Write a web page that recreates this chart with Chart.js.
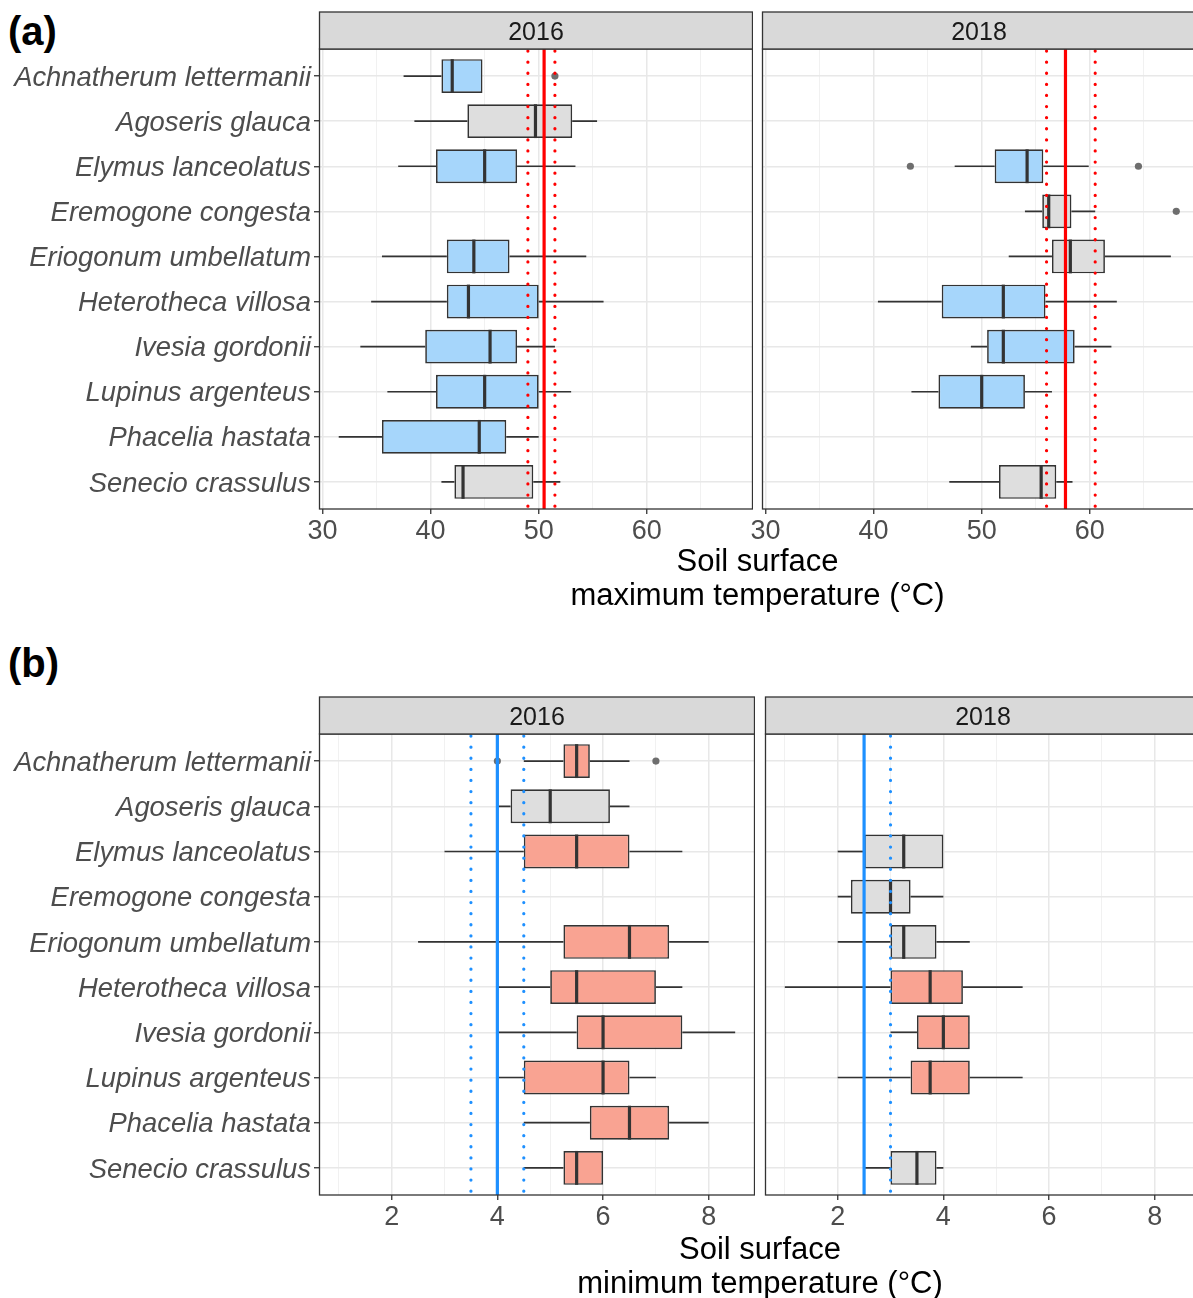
<!DOCTYPE html>
<html>
<head>
<meta charset="utf-8">
<script src="https://cdn.jsdelivr.net/npm/chart.js@4.4.1/dist/chart.umd.min.js"></script>
<style>
  html, body { margin: 0; padding: 0; background: #fff; overflow: hidden; }
  #page { position: relative; width: 1193px; height: 1298px; overflow: hidden; font-family: 'Liberation Sans', Arial, sans-serif; }
  canvas { position: absolute; }
  .tag { position: absolute; left: 8px; font-weight: bold; font-size: 40px; line-height: 40px; color: #000; }
  .xtitle { position: absolute; text-align: center; font-size: 31px; line-height: 34px; color: #000; }
</style>
</head>
<body>
<div id="page">
  <div class="tag" style="top:11px">(a)</div>
  <canvas id="a2016" width="753" height="559" style="left:0;top:0"></canvas>
  <canvas id="a2018" width="456" height="559" style="left:740px;top:0"></canvas>
  <div class="xtitle" style="left:319px;width:877px;top:544px">Soil surface<br>maximum temperature (°C)</div>

  <div class="tag" style="top:643px">(b)</div>
  <canvas id="b2016" width="755" height="560" style="left:0;top:685px"></canvas>
  <canvas id="b2018" width="459" height="560" style="left:742px;top:685px"></canvas>
  <div class="xtitle" style="left:319px;width:882px;top:1232px">Soil surface<br>minimum temperature (°C)</div>
</div>

<script>
// species (rows, top to bottom)
const species = [
  'Achnatherum lettermanii', 'Agoseris glauca', 'Elymus lanceolatus', 'Eremogone congesta',
  'Eriogonum umbellatum', 'Heterotheca villosa', 'Ivesia gordonii', 'Lupinus argenteus',
  'Phacelia hastata', 'Senecio crassulus'
];

// (a) soil surface maximum temperature, box stats: [whisker low, Q1, median, Q3, whisker high]
const max2016 = [
  [37.5, 41.0, 42.0, 44.8, 44.8],
  [38.5, 43.4, 49.7, 53.1, 55.4],
  [37.0, 40.5, 45.0, 48.0, 53.4],
  null,
  [35.5, 41.5, 44.0, 47.3, 54.4],
  [34.5, 41.5, 43.5, 50.0, 56.0],
  [33.5, 39.5, 45.5, 48.0, 51.5],
  [36.0, 40.5, 45.0, 50.0, 53.0],
  [31.5, 35.5, 44.5, 47.0, 50.0],
  [41.0, 42.2, 43.0, 49.5, 52.0]
];
const max2018 = [
  null,
  null,
  [47.5, 51.2, 54.2, 55.7, 59.9],
  [54.0, 55.6, 56.2, 58.3, 60.5],
  [52.5, 56.5, 58.2, 61.4, 67.5],
  [40.4, 46.3, 52.0, 55.9, 62.5],
  [49.0, 50.5, 52.0, 58.6, 62.0],
  [43.5, 46.0, 50.0, 54.0, 56.5],
  null,
  [47.0, 51.6, 55.5, 56.9, 58.4]
];
// 1 = coloured box, 0 = grey box
const max2016Hi = [1, 0, 1, null, 1, 1, 1, 1, 1, 0];
const max2018Hi = [null, null, 1, 0, 0, 1, 1, 1, null, 0];
// outliers: [row, value]
const max2016Out = [[0, 51.5]];
const max2018Out = [[2, 43.4], [2, 64.5], [3, 68.0]];
// reference lines: [mean, lower, upper]
const max2016Ref = [50.5, 49.0, 51.5];
const max2018Ref = [57.75, 56.0, 60.5];
const maxTicks = [30, 40, 50, 60];
const maxMinor = [35, 45, 55, 65];

// (b) soil surface minimum temperature
const min2016 = [
  [4.5, 5.25, 5.5, 5.75, 6.5],
  [4.0, 4.25, 5.0, 6.13, 6.5],
  [3.0, 4.5, 5.5, 6.5, 7.5],
  null,
  [2.5, 5.25, 6.5, 7.25, 8.0],
  [4.0, 5.0, 5.5, 7.0, 7.5],
  [4.0, 5.5, 6.0, 7.5, 8.5],
  [4.0, 4.5, 6.0, 6.5, 7.0],
  [4.5, 5.75, 6.5, 7.25, 8.0],
  [4.5, 5.25, 5.5, 6.0, 6.0]
];
const min2018 = [
  null,
  null,
  [2.0, 2.5, 3.25, 4.0, 4.0],
  [2.0, 2.25, 3.0, 3.38, 4.0],
  [2.0, 3.0, 3.25, 3.87, 4.5],
  [1.0, 3.0, 3.75, 4.37, 5.5],
  [3.0, 3.5, 4.0, 4.5, 4.5],
  [2.0, 3.38, 3.75, 4.5, 5.5],
  null,
  [2.5, 3.0, 3.5, 3.87, 4.0]
];
const min2016Hi = [1, 0, 1, null, 1, 1, 1, 1, 1, 1];
const min2018Hi = [null, null, 0, 0, 0, 1, 1, 1, null, 0];
const min2016Out = [[0, 4.0], [0, 7.0]];
const min2018Out = [];
const min2016Ref = [4.0, 3.5, 4.5];
const min2018Ref = [2.5, null, 3.0];
const minTicks = [2, 4, 6, 8];
const minMinor = [1, 3, 5, 7];

Chart.defaults.font.family = "'Liberation Sans', Arial, sans-serif";

const GREY_FILL = '#dedede';
const EDGE = '#333333';

// ggplot-like range: data range expanded by 5% on each side
function expandRange(sets, outs) {
  let lo = Infinity, hi = -Infinity;
  sets.forEach(s => s.forEach(r => { if (r) { lo = Math.min(lo, r[0]); hi = Math.max(hi, r[4]); } }));
  outs.forEach(o => o.forEach(p => { lo = Math.min(lo, p[1]); hi = Math.max(hi, p[1]); }));
  const pad = (hi - lo) * 0.05;
  return [lo - pad, hi + pad];
}

function facetPlugin(f) {
  return {
    id: 'facet',
    beforeDatasetsDraw(chart) {
      // whiskers, behind the boxes
      const { ctx, scales: { x } } = chart;
      const meta = chart.getDatasetMeta(0);
      const rows = chart.data.datasets[0].data;
      ctx.save();
      ctx.strokeStyle = EDGE;
      ctx.lineWidth = 1.7;
      rows.forEach((r, j) => {
        const py = meta.data[j].y;
        ctx.beginPath();
        ctx.moveTo(x.getPixelForValue(r.lo), py);
        ctx.lineTo(x.getPixelForValue(r.x[0]), py);
        ctx.moveTo(x.getPixelForValue(r.x[1]), py);
        ctx.lineTo(x.getPixelForValue(r.hi), py);
        ctx.stroke();
      });
      ctx.restore();
    },
    afterDatasetsDraw(chart) {
      const { ctx, chartArea: a, scales: { x, y } } = chart;
      const meta = chart.getDatasetMeta(0);
      const rows = chart.data.datasets[0].data;
      ctx.save();
      // medians
      ctx.strokeStyle = EDGE;
      ctx.lineWidth = 3.2;
      rows.forEach((r, j) => {
        const el = meta.data[j];
        const px = x.getPixelForValue(r.med);
        ctx.beginPath();
        ctx.moveTo(px, el.y - el.height / 2);
        ctx.lineTo(px, el.y + el.height / 2);
        ctx.stroke();
      });
      // outliers
      ctx.fillStyle = '#6e6e6e';
      f.out.forEach(([i, v]) => {
        ctx.beginPath();
        ctx.arc(x.getPixelForValue(v), y.getPixelForValue(i + 1), 3.6, 0, Math.PI * 2);
        ctx.fill();
      });
      // reference lines
      const [mean, lo, hi] = f.ref;
      ctx.strokeStyle = f.lineColor;
      ctx.lineWidth = 3.2;
      ctx.lineCap = 'round';
      ctx.setLineDash([0.1, 11]);
      [lo, hi].forEach(v => {
        if (v == null) return;
        const px = x.getPixelForValue(v);
        ctx.beginPath();
        ctx.moveTo(px, a.top + 2);
        ctx.lineTo(px, a.bottom);
        ctx.stroke();
      });
      ctx.setLineDash([]);
      ctx.lineCap = 'butt';
      const pm = x.getPixelForValue(mean);
      ctx.beginPath();
      ctx.moveTo(pm, a.top);
      ctx.lineTo(pm, a.bottom);
      ctx.stroke();
      ctx.restore();
    },
    afterDraw(chart) {
      const { ctx, chartArea: a } = chart;
      ctx.save();
      ctx.strokeStyle = EDGE;
      ctx.lineWidth = 1.3;
      ctx.strokeRect(a.left + 0.5, a.top, a.right - a.left - 1, a.bottom - a.top);
      // facet strip
      const sh = 37;
      ctx.fillStyle = '#d9d9d9';
      ctx.fillRect(a.left + 0.5, a.top - sh, a.right - a.left - 1, sh);
      ctx.strokeRect(a.left + 0.5, a.top - sh, a.right - a.left - 1, sh);
      ctx.fillStyle = '#1a1a1a';
      ctx.font = "25px 'Liberation Sans', Arial, sans-serif";
      ctx.textAlign = 'center';
      ctx.textBaseline = 'middle';
      ctx.fillText(f.year, (a.left + a.right) / 2, a.top - sh / 2 + 2.5);
      ctx.restore();
    }
  };
}

function facet(canvasId, f) {
  const rows = [];
  const colors = [];
  f.stats.forEach((s, i) => {
    if (!s) return;
    rows.push({ y: i + 1, x: [s[1], s[3]], lo: s[0], med: s[2], hi: s[4] });
    colors.push(f.hi[i] ? f.hiFill : GREY_FILL);
  });
  const isMajor = v => f.ticks.includes(v);
  const gridVals = f.ticks.concat(f.minor).filter(v => v > f.range[0] && v < f.range[1]).sort((p, q) => p - q);

  new Chart(document.getElementById(canvasId), {
    type: 'bar',
    data: {
      datasets: [{
        data: rows,
        backgroundColor: colors,
        borderColor: EDGE,
        borderWidth: 1.7,
        borderSkipped: false,
        categoryPercentage: 0.75,
        barPercentage: 1
      }]
    },
    options: {
      indexAxis: 'y',
      responsive: false,
      animation: false,
      events: [],
      layout: { padding: { top: 49, left: 0, right: 0, bottom: 0 } },
      plugins: { legend: { display: false }, tooltip: { enabled: false } },
      scales: {
        x: {
          type: 'linear',
          bounds: 'data',
          beginAtZero: false,
          min: f.range[0],
          max: f.range[1],
          afterBuildTicks: s => { s.ticks = gridVals.map(v => ({ value: v })); },
          afterFit: s => { s.height = 50; },
          ticks: {
            autoSkip: false,
            maxRotation: 0,
            padding: 1,
            color: '#4d4d4d',
            font: { size: 27 },
            callback: v => isMajor(v) ? String(v) : ''
          },
          grid: {
            color: c => (c.tick && isMajor(c.tick.value)) ? '#e8e8e8' : '#efefef',
            lineWidth: c => (c.tick && isMajor(c.tick.value)) ? 1.5 : 0.9,
            tickLength: 5,
            tickWidth: 1.3,
            tickColor: c => (c.tick && isMajor(c.tick.value)) ? EDGE : 'rgba(0,0,0,0)'
          },
          border: { display: false }
        },
        y: {
          type: 'linear',
          bounds: 'data',
          reverse: true,
          offset: false,
          min: 0.4,
          max: 10.6,
          afterBuildTicks: s => { s.ticks = species.map((n, i) => ({ value: i + 1 })); },
          afterFit: s => { s.width = f.axisWidth; },
          ticks: {
            display: f.showY,
            autoSkip: false,
            padding: 3,
            labelOffset: 2,
            color: '#4d4d4d',
            font: { size: 27.4, style: 'italic' },
            callback: v => species[v - 1]
          },
          grid: {
            offset: false,
            color: '#e8e8e8',
            lineWidth: 1.5,
            drawTicks: f.showY,
            tickLength: 5,
            tickWidth: 1.3,
            tickColor: EDGE
          },
          border: { display: false }
        }
      }
    },
    plugins: [facetPlugin(f)]
  });
}

const maxRange = expandRange([max2016, max2018], [max2016Out, max2018Out]);
const minRange = expandRange([min2016, min2018], [min2016Out, min2018Out]);

facet('a2016', { year: '2016', stats: max2016, hi: max2016Hi, out: max2016Out, ref: max2016Ref,
  ticks: maxTicks, minor: maxMinor, range: maxRange, showY: true, axisWidth: 319,
  hiFill: '#a6d6fb', lineColor: '#ff0000' });
facet('a2018', { year: '2018', stats: max2018, hi: max2018Hi, out: max2018Out, ref: max2018Ref,
  ticks: maxTicks, minor: maxMinor, range: maxRange, showY: false, axisWidth: 22,
  hiFill: '#a6d6fb', lineColor: '#ff0000' });
facet('b2016', { year: '2016', stats: min2016, hi: min2016Hi, out: min2016Out, ref: min2016Ref,
  ticks: minTicks, minor: minMinor, range: minRange, showY: true, axisWidth: 319,
  hiFill: '#f9a392', lineColor: '#1e90ff' });
facet('b2018', { year: '2018', stats: min2018, hi: min2018Hi, out: min2018Out, ref: min2018Ref,
  ticks: minTicks, minor: minMinor, range: minRange, showY: false, axisWidth: 23,
  hiFill: '#f9a392', lineColor: '#1e90ff' });
</script>
</body>
</html>
